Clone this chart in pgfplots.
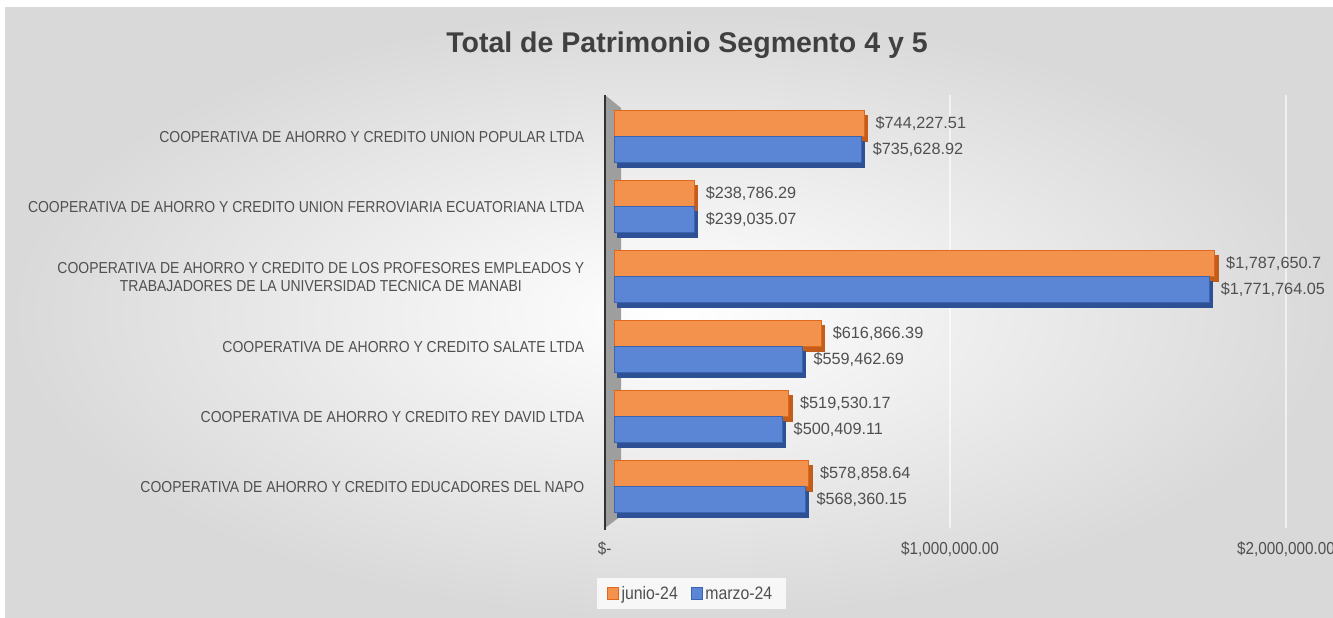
\documentclass[border=0pt]{standalone}
\usepackage{pgfplots}
\pgfplotsset{compat=1.18}
\usepackage{pgfplotstable}
\usepackage{fontspec}
\setmainfont{Liberation Sans}
\newfontfamily\titlefont{Liberation Sans}[BoldFont={Liberation Sans Bold}]
\newfontfamily\narrowfont{Liberation Sans}[FakeStretch=0.88]

\definecolor{junio}{HTML}{F2924D}
\definecolor{juniob}{HTML}{E0681A}
\definecolor{junios}{HTML}{C25D1B}
\definecolor{marzo}{HTML}{5A86D5}
\definecolor{marzob}{HTML}{3B64B0}
\definecolor{marzos}{HTML}{2E5196}
\definecolor{txt}{HTML}{505050}
\definecolor{ttl}{HTML}{404040}

% y: 5 = arriba (Union Popular), 0 = abajo (Educadores del Napo)
\pgfplotstableread{
y val lab
5 744227.51 \$744,227.51
4 238786.29 \$238,786.29
3 1787650.7 \$1,787,650.7
2 616866.39 \$616,866.39
1 519530.17 \$519,530.17
0 578858.64 \$578,858.64
}\junio

\pgfplotstableread{
y val lab
5 735628.92 \$735,628.92
4 239035.07 \$239,035.07
3 1771764.05 \$1,771,764.05
2 559462.69 \$559,462.69
1 500409.11 \$500,409.11
0 568360.15 \$568,360.15
}\marzo

\begin{document}
\begin{tikzpicture}
\useasboundingbox (0,0) rectangle (999.75pt,462.75pt);
\begin{scope}[x=0.75pt,y=-0.75pt,yshift=462.75pt]
  \fill[white] (0,0) rectangle (1333,617);
  \shade[inner color=white, outer color=black!15] (5,8) rectangle (1340,620);
  % pared lateral 3D
  \fill[black!38] (605,95) -- (621,108) -- (621,516) -- (605,528) -- cycle;
  \draw[black!80, line width=2.2pt] (605,95) -- (605,530);
  \node[font=\titlefont\bfseries\fontsize{21.4}{24}\selectfont, text=ttl] at (687,45) {Total de Patrimonio Segmento 4 y 5};
\end{scope}

\begin{axis}[
  at={(460.5pt,66.75pt)}, anchor=south west,
  scale only axis, width=516.6pt, height=324.9pt,
  xbar, bar width=19.5pt,
  xmin=0, xmax=2050000, ymin=-0.59, ymax=5.6,
  scaled x ticks=false,
  axis line style={draw=none}, tick style={draw=none},
  xtick={1000000,2000000},
  xticklabels={{\$1,000,000.00},{\$2,000,000.00}},
  extra x ticks={0}, extra x tick labels={\$-},
  extra x tick style={grid=none, xticklabel style={xshift=-7pt}},
  xmajorgrids, grid style={white, opacity=0.6, line width=0.8pt},
  xticklabel style={font=\narrowfont\fontsize{13}{15}\selectfont, text=txt, yshift=-7pt},
  ytick={0,1,2,3,4,5},
  yticklabels={
    COOPERATIVA DE AHORRO Y CREDITO EDUCADORES DEL NAPO,
    COOPERATIVA DE AHORRO Y CREDITO REY DAVID LTDA,
    COOPERATIVA DE AHORRO Y CREDITO SALATE LTDA,
    {COOPERATIVA DE AHORRO Y CREDITO DE LOS PROFESORES EMPLEADOS Y\\TRABAJADORES DE LA UNIVERSIDAD TECNICA DE MANABI},
    COOPERATIVA DE AHORRO Y CREDITO UNION FERROVIARIA ECUATORIANA LTDA,
    COOPERATIVA DE AHORRO Y CREDITO UNION POPULAR LTDA},
  yticklabel style={align=center, font=\narrowfont\fontsize{11.9}{13.5}\selectfont, text=txt, xshift=-14.5pt},
  legend style={at={(0.112,-0.152)}, anchor=center, draw=none, fill=black!3,
    inner xsep=8pt, inner ysep=4pt,
    legend columns=2, font=\narrowfont\fontsize{13.5}{15}\selectfont, text=txt,
    /tikz/every even column/.append style={column sep=8pt}},
  every node near coord/.append style={font=\fontsize{12.2}{14}\selectfont, text=txt, anchor=west, xshift=5pt},
]
% junio-24 (arriba)
\addplot[forget plot, fill=junios, draw=junios, bar shift=9.75pt, xshift=2.5pt, yshift=-3.5pt]
  table[x=val, y=y] {\junio};
\addplot[fill=junio, draw=juniob, line width=0.7pt, bar shift=9.75pt,
  nodes near coords, point meta=explicit symbolic,
  legend image code/.code={\draw[fill=junio, draw=juniob, line width=0.6pt] (0pt,-4pt) rectangle (8pt,4.5pt);}]
  table[x=val, y=y, meta=lab] {\junio};
\addlegendentry{junio-24}
% marzo-24 (abajo)
\addplot[forget plot, fill=marzos, draw=marzos, bar shift=-9.75pt, xshift=2.5pt, yshift=-3.5pt]
  table[x=val, y=y] {\marzo};
\addplot[fill=marzo, draw=marzob, line width=0.7pt, bar shift=-9.75pt,
  nodes near coords, point meta=explicit symbolic,
  legend image code/.code={\draw[fill=marzo, draw=marzob, line width=0.6pt] (0pt,-4pt) rectangle (8pt,4.5pt);}]
  table[x=val, y=y, meta=lab] {\marzo};
\addlegendentry{marzo-24}
\end{axis}
\end{tikzpicture}
\end{document}
